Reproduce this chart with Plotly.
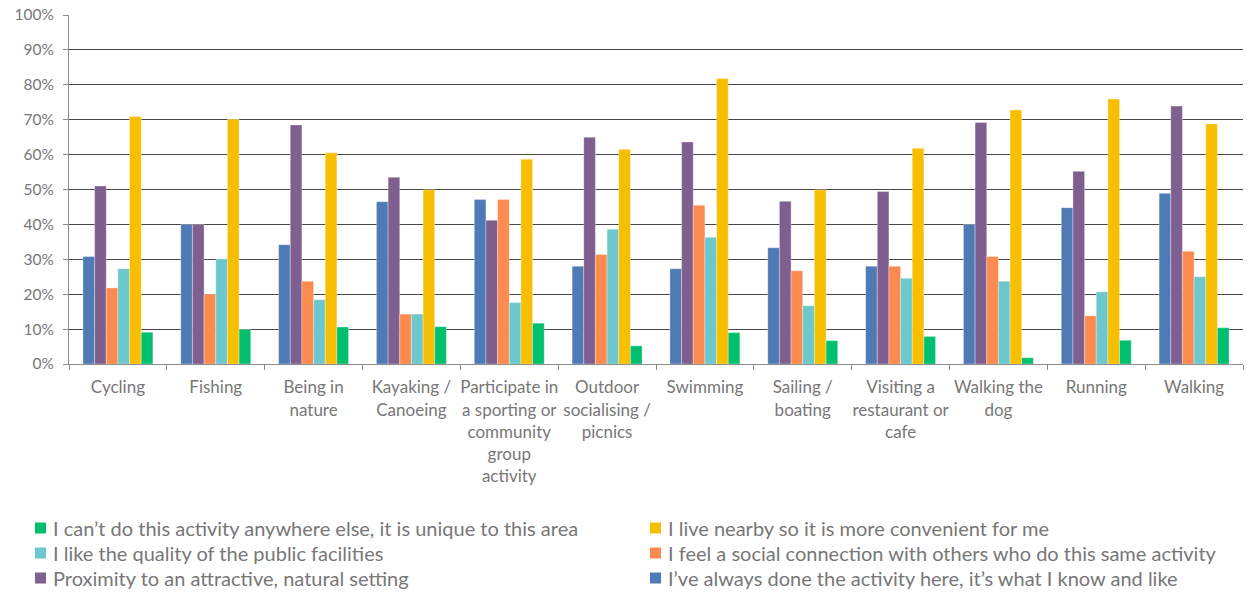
import plotly.graph_objects as go

# Activities (x categories)
activities = [
    "Cycling", "Fishing", "Being in<br>nature", "Kayaking /<br>Canoeing",
    "Participate in<br>a sporting or<br>community<br>group<br>activity",
    "Outdoor<br>socialising /<br>picnics", "Swimming", "Sailing /<br>boating",
    "Visiting a<br>restaurant or<br>cafe", "Walking the<br>dog", "Running", "Walking",
]

# Share of respondents (%) giving each reason, per activity
always_done = [30.8, 40.0, 34.2, 46.5, 47.1, 28.0, 27.3, 33.3, 28.0, 40.0, 44.8, 48.9]
proximity = [51.0, 40.0, 68.5, 53.5, 41.2, 65.0, 63.6, 46.6, 49.4, 69.2, 55.2, 73.9]
social = [21.8, 20.0, 23.7, 14.3, 47.1, 31.4, 45.5, 26.7, 28.0, 30.8, 13.8, 32.3]
facilities = [27.3, 30.1, 18.4, 14.3, 17.6, 38.6, 36.3, 16.7, 24.6, 23.7, 20.7, 25.0]
live_nearby = [70.9, 70.1, 60.5, 49.9, 58.7, 61.5, 81.8, 49.9, 61.8, 72.8, 75.9, 68.8]
unique_area = [9.1, 9.9, 10.6, 10.7, 11.7, 5.2, 9.0, 6.7, 7.9, 1.8, 6.8, 10.4]

# (name, values, colour, legend column, legend row) in bar order within each group
series = [
    ("I\u2019ve always done the activity here, it\u2019s what I know and like",
     always_done, "#4E7AB5", 1, 2),
    ("Proximity to an attractive, natural setting",
     proximity, "#7E5F8F", 0, 2),
    ("I feel a social connection with others who do this same activity",
     social, "#FD8A4F", 1, 1),
    ("I like the quality of the public facilities",
     facilities, "#6CC8CC", 0, 1),
    ("I live nearby so it is more convenient for me",
     live_nearby, "#F8BE00", 1, 0),
    ("I can\u2019t do this activity anywhere else, it is unique to this area",
     unique_area, "#00BF6F", 0, 0),
]

FONT = "Lato"
GREY = "#777777"

# Figure geometry in pixels
W, H = 1247, 592
ML, MR, MT, MB = 69, 4, 15, 228
PW, PH = W - ML - MR, H - MT - MB


def to_paper(px, py):
    return (px - ML) / PW, (H - MB - py) / PH


# Legend layout: two columns of three rows below the axis
LEG_COL_X = [35, 650]
LEG_ROW_Y = [528, 553, 578]
LEG_BOX = 11
LEG_TEXT_GAP = 5

fig = go.Figure()
for name, vals, color, col, row in series:
    fig.add_trace(go.Bar(
        x=activities, y=vals, name=name, showlegend=False,
        marker=dict(color=color, line=dict(color="rgba(255,255,255,0.55)", width=0.6)),
    ))
    bx, by = LEG_COL_X[col], LEG_ROW_Y[row]
    x0, y0 = to_paper(bx, by + LEG_BOX / 2)
    x1, y1 = to_paper(bx + LEG_BOX, by - LEG_BOX / 2)
    fig.add_shape(type="rect", xref="paper", yref="paper",
                  x0=x0, y0=y0, x1=x1, y1=y1,
                  fillcolor=color, line=dict(width=0), layer="above")
    tx, ty = to_paper(bx + LEG_BOX + LEG_TEXT_GAP, by)
    fig.add_annotation(xref="paper", yref="paper", x=tx, y=ty,
                       xanchor="left", yanchor="middle", showarrow=False,
                       text=name, font=dict(family=FONT, size=20, color=GREY))

fig.update_layout(
    width=W, height=H,
    margin=dict(l=ML, r=MR, t=MT, b=MB, autoexpand=False),
    paper_bgcolor="white", plot_bgcolor="white",
    barmode="group", bargap=0.285, bargroupgap=0,
    font=dict(family=FONT, color=GREY),
    showlegend=False,
    xaxis=dict(
        type="category",
        showline=True, linecolor="#8c8c8c", linewidth=1,
        ticks="outside", tickson="boundaries", ticklen=5, tickcolor="#8c8c8c",
        tickfont=dict(family=FONT, size=17, color=GREY),
        tickangle=0, showgrid=False, automargin=False,
        ticklabelstandoff=8,
    ),
    yaxis=dict(
        range=[0, 100], dtick=10, ticksuffix="%",
        showline=True, linecolor="#8c8c8c", linewidth=1,
        ticks="outside", ticklen=5, tickcolor="#8c8c8c",
        tickfont=dict(family=FONT, size=15.5, color=GREY),
        showgrid=True, gridcolor="#474747", gridwidth=1,
        zeroline=False, ticklabelstandoff=6, automargin=False,
    ),
)

fig.write_html("out.html")
